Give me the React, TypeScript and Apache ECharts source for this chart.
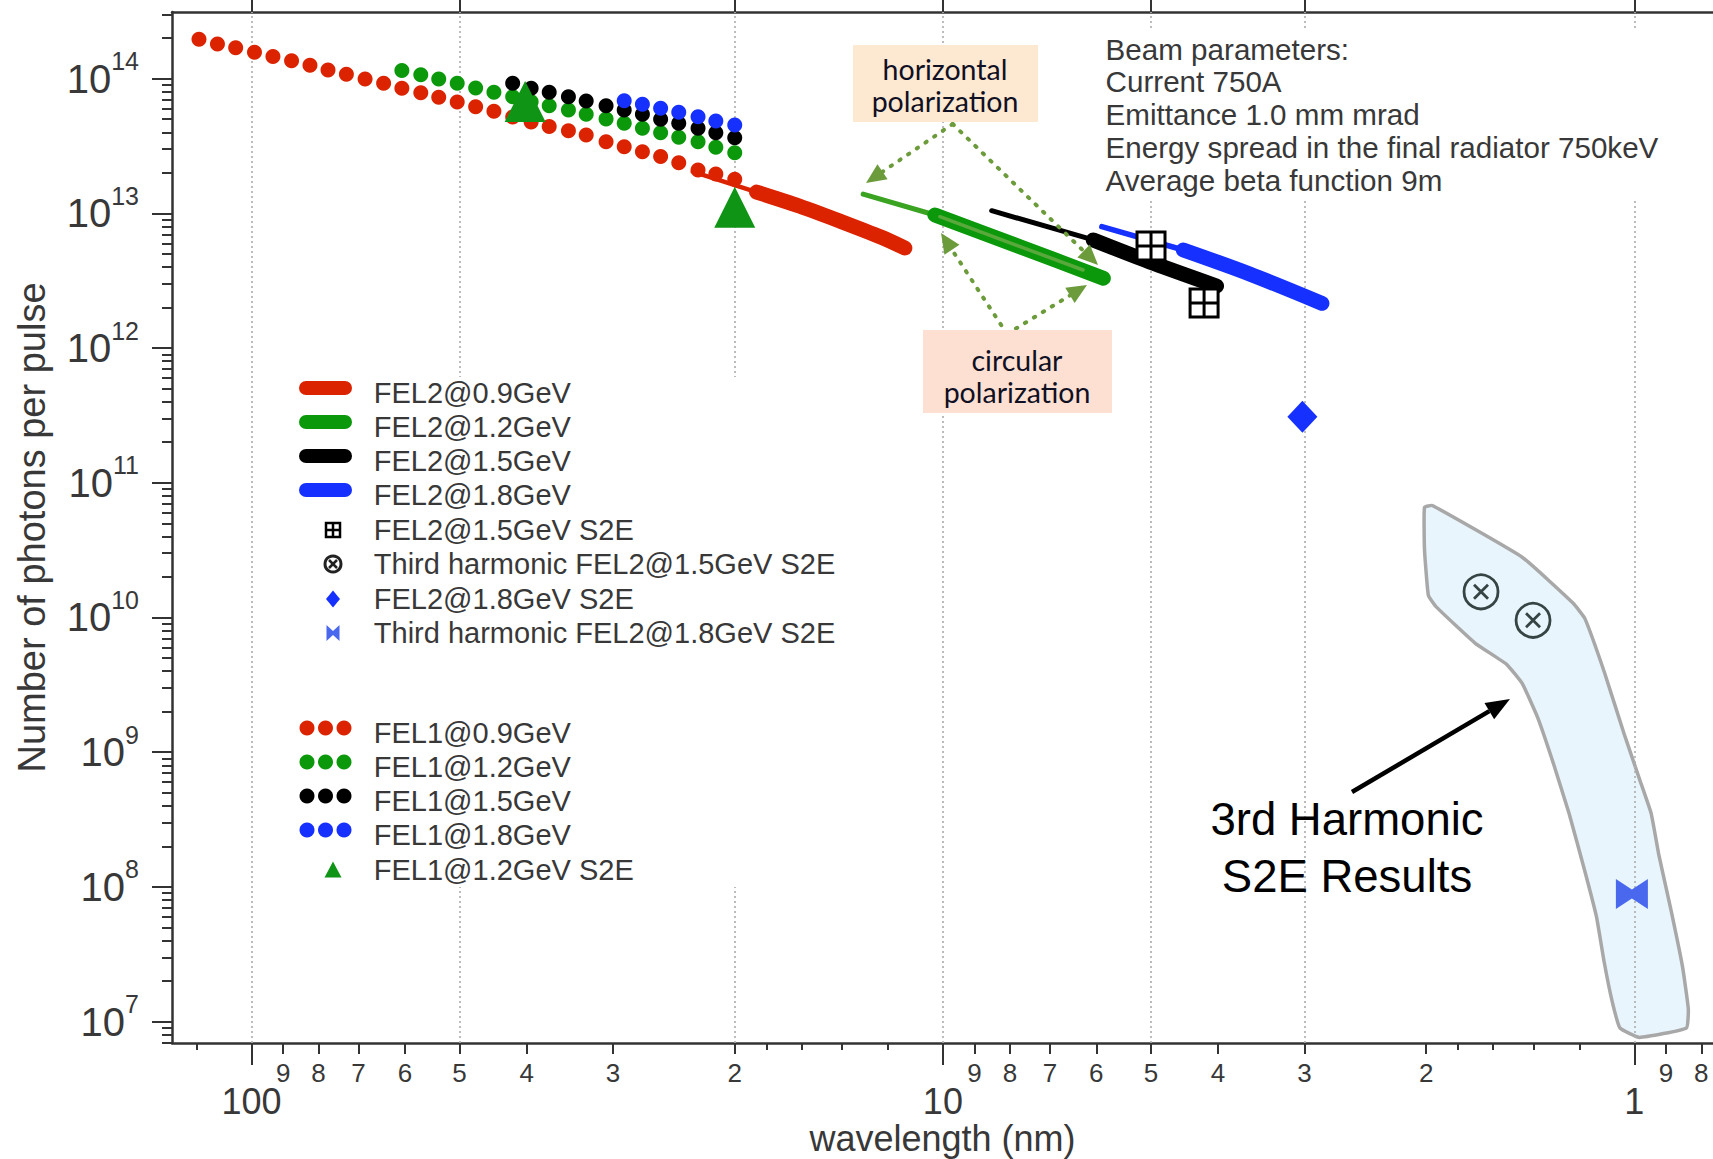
import React, { useEffect, useRef } from 'react';
import * as echarts from 'echarts';

const W = 1713;
const H = 1159;

// ---------------- data: [wavelength (nm), photons per pulse] ----------------
const fel1_09GeV = [
  [119.1, 1.96e14], [112.0, 1.81e14], [105.4, 1.70e14], [99.0, 1.57e14], [93.1, 1.46e14],
  [87.5, 1.36e14], [82.3, 1.26e14], [77.5, 1.16e14], [72.9, 1.08e14], [68.5, 9.95e13],
  [64.4, 9.24e13], [60.6, 8.49e13], [56.9, 7.87e13], [53.6, 7.28e13], [50.4, 6.71e13],
  [47.4, 6.20e13], [44.6, 5.73e13], [41.9, 5.20e13], [39.4, 4.77e13], [37.1, 4.42e13],
  [34.8, 4.11e13], [32.8, 3.82e13], [30.7, 3.40e13], [28.9, 3.13e13], [27.2, 2.87e13],
  [25.6, 2.64e13], [24.1, 2.38e13], [22.6, 2.10e13], [21.3, 1.96e13], [20.0, 1.79e13],
];
const fel1_12GeV = [
  [60.6, 1.15e14], [56.9, 1.07e14], [53.6, 9.95e13], [50.4, 9.24e13], [47.4, 8.53e13],
  [44.6, 7.93e13], [41.9, 7.35e13], [39.4, 6.75e13], [37.1, 6.30e13], [34.8, 5.86e13],
  [32.8, 5.44e13], [30.7, 5.02e13], [28.9, 4.67e13], [27.2, 4.28e13], [25.6, 3.97e13],
  [24.1, 3.67e13], [22.6, 3.40e13], [21.3, 3.10e13], [20.0, 2.82e13],
];
const fel1_15GeV = [
  [41.9, 9.24e13], [39.4, 8.49e13], [37.1, 7.93e13], [34.8, 7.35e13], [32.8, 6.83e13],
  [30.7, 6.30e13], [28.9, 5.86e13], [27.2, 5.44e13], [25.6, 4.99e13], [24.1, 4.67e13],
  [22.6, 4.28e13], [21.3, 3.97e13], [20.0, 3.65e13],
];
const fel1_18GeV = [
  [28.9, 6.87e13], [27.2, 6.46e13], [25.6, 6.03e13], [24.1, 5.63e13], [22.6, 5.22e13],
  [21.3, 4.85e13], [20.0, 4.53e13],
];
const fel1_12GeV_S2E = [[40.2, 6.77e13], [20.0, 1.11e13]];

const fel2_09GeV_thin = [[23.0, 2.04e13], [18.6, 1.44e13]];
const fel2_09GeV_thick = [[18.6, 1.44e13], [16.1, 1.13e13], [14.1, 8.78e12], [12.3, 6.68e12], [11.35, 5.54e12]];
const fel2_12GeV_thin = [[13.04, 1.39e13], [10.27, 9.73e12]];
const fel2_12GeV_thick = [[10.27, 9.73e12], [7.74, 5.66e12], [5.86, 3.30e12]];
const fel2_12GeV_stripe = [[10.1, 9.45e12], [6.27, 3.80e12]];
const fel2_15GeV_thin = [[8.50, 1.047e13], [6.06, 6.35e12]];
const fel2_15GeV_thick = [[6.06, 6.35e12], [4.96, 4.26e12], [4.02, 2.89e12]];
const fel2_18GeV_thin = [[5.89, 7.97e12], [4.49, 5.35e12]];
const fel2_18GeV_thick = [[4.49, 5.35e12], [3.60, 3.55e12], [2.83, 2.15e12]];

const fel2_15GeV_S2E = [[5.0, 5.73e12], [4.19, 2.16e12]];
const third_15GeV_S2E = [[1.666, 1.55e10], [1.401, 9.53e9]];
const fel2_18GeV_S2E = [[3.02, 3.09e11]];
const third_18GeV_S2E = [[1.008, 8.86e7]];

// ---------------- axes ----------------
const xMinWl = 0.7694;
const xMaxWl = 130.3;
const yMinN = 6.936e6;
const yMaxN = 3.127e14;
const xMajorTickWl = [100, 10, 1];
const xMajorLabelText = ['100', '10', '1'];
const xMinorLabelWl = [90, 80, 70, 60, 50, 40, 30, 20, 9, 8, 7, 6, 5, 4, 3, 2, 0.9, 0.8];
const xMinorLabelText = ['9', '8', '7', '6', '5', '4', '3', '2', '9', '8', '7', '6', '5', '4', '3', '2', '9', '8'];
const xFineTickWl = [120, 18, 16, 14, 12, 1.8, 1.6, 1.4, 1.2];
const xTopTickWl = [100, 50, 20, 10, 5, 3, 1];
const gridLineWl = [100, 50, 20, 10, 5, 3, 1];
const yMajorExp = [7, 8, 9, 10, 11, 12, 13, 14];
const yMinorMult = [2, 3, 4, 5, 6, 7, 8, 9];
const yMinorDecades = [6, 7, 8, 9, 10, 11, 12, 13, 14];

// ---------------- texts ----------------
const beamLines = [
  'Beam parameters:',
  'Current 750A',
  'Emittance 1.0 mm mrad',
  'Energy spread in the final radiator 750keV',
  'Average beta function 9m',
];
const legendLabels = [
  'FEL2@0.9GeV', 'FEL2@1.2GeV', 'FEL2@1.5GeV', 'FEL2@1.8GeV',
  'FEL2@1.5GeV S2E', 'Third harmonic FEL2@1.5GeV S2E', 'FEL2@1.8GeV S2E', 'Third harmonic FEL2@1.8GeV S2E',
  'FEL1@0.9GeV', 'FEL1@1.2GeV', 'FEL1@1.5GeV', 'FEL1@1.8GeV', 'FEL1@1.2GeV S2E',
];

// ---------------- styles ----------------
const FONT = '"Liberation Sans", Arial, Helvetica, sans-serif';
const HUM = 'Lato, "Open Sans", sans-serif';
const AX = '#333333';
const TXT = '#383838';
const RED = '#dc2300';
const GREEN = '#0b990b';
const GREEN_THIN = '#3aa322';
const STRIPE = '#58a83c';
const BLACK = '#000000';
const BLUE = '#1530ff';
const BOWTIE = '#4a68ee';
const TRI = '#0f9416';
const OLIVE = '#6c9b3b';
const OTIMES = '#364444';

const L = (v: number) => Math.log10(v);
const pts = (arr: number[][]) => arr.map(([w, n]) => [L(w), L(n)]);

function lineSeries(name: string, data: number[][], color: string, width: number) {
  return {
    type: 'line', name, data: pts(data), showSymbol: false, symbol: 'none', smooth: 0.3, silent: true, z: 2,
    lineStyle: { color, width, cap: 'round', join: 'round', opacity: 1 },
  };
}
function scatterSeries(name: string, data: number[][], symbol: string, size: any, itemStyle: any) {
  return {
    type: 'scatter', name, data: pts(data), symbol, symbolSize: size, symbolKeepAspect: true, silent: true, z: 2,
    itemStyle: { opacity: 1, ...itemStyle },
  };
}

function arrowHead(from: number[], to: number[], len: number, half: number) {
  const dx = to[0] - from[0];
  const dy = to[1] - from[1];
  const d = Math.hypot(dx, dy);
  const ux = dx / d;
  const uy = dy / d;
  const bx = to[0] - ux * len;
  const by = to[1] - uy * len;
  return {
    base: [bx, by],
    head: [[to[0], to[1]], [bx - uy * half, by + ux * half], [bx + uy * half, by - ux * half]],
  };
}

function buildGraphic() {
  const g: any[] = [];
  // 3rd harmonic shaded region
  const region = [[1424.5, 507.4], [1432.3, 505.5], [1522.2, 557.2], [1573, 603.1], [1584.8, 618.4],
    [1604.3, 672], [1623.9, 733.2], [1639.5, 779.1], [1651.2, 813.6], [1659, 855.7], [1670.8, 909.2],
    [1682.5, 966.6], [1688.3, 1008.7], [1686.4, 1027.9], [1639.5, 1037.4], [1619.9, 1027.9],
    [1612.1, 1001.1], [1604.3, 962.8], [1596.5, 916.9], [1584.8, 871], [1569.1, 813.6], [1553.5, 763.8],
    [1537.8, 717.9], [1522.2, 683.4], [1506.6, 664.3], [1475.3, 643.3], [1436.2, 606.9], [1428.4, 595.4],
    [1424.5, 549.5]];
  g.push({ type: 'polygon', z: 0, silent: true, shape: { points: region, smooth: 0.12 },
    style: { fill: '#e9f5fd', stroke: '#a8a8a8', lineWidth: 3.5 } });

  // white backgrounds that interrupt the grid lines
  g.push({ type: 'rect', z: 3, silent: true, shape: { x: 280, y: 377, width: 580, height: 510 }, style: { fill: '#ffffff' } });
  g.push({ type: 'rect', z: 3, silent: true, shape: { x: 1095, y: 30, width: 575, height: 168 }, style: { fill: '#ffffff' } });

  // dotted polarization arrows
  const apexH = [952.7, 124];
  const tipsH = [[866, 183], [1098, 265]];
  const apexC = [1007, 334];
  const tipsC = [[941, 233], [1087, 285]];
  const dotted = (a: number[], t: number[]) => {
    const ah = arrowHead(a, t, 20, 9);
    g.push({ type: 'line', z: 3, silent: true, shape: { x1: a[0], y1: a[1], x2: ah.base[0], y2: ah.base[1] },
      style: { stroke: OLIVE, lineWidth: 4, lineDash: [1.5, 9], lineCap: 'round' } });
    g.push({ type: 'polygon', z: 3, silent: true, shape: { points: ah.head }, style: { fill: OLIVE } });
  };
  tipsH.forEach((t) => dotted(apexH, t));
  tipsC.forEach((t) => dotted(apexC, t));

  // polarization boxes
  g.push({ type: 'rect', z: 3, silent: true, shape: { x: 853, y: 45, width: 185, height: 77 }, style: { fill: '#fde8d2' } });
  g.push({ type: 'rect', z: 3, silent: true, shape: { x: 923, y: 330, width: 189, height: 83 }, style: { fill: '#fde0d2' } });
  g.push({ type: 'text', z: 4, silent: true, style: { text: 'horizontal\npolarization', x: 945, y: 85,
    align: 'center', verticalAlign: 'middle', textAlign: 'center', textVerticalAlign: 'middle',
    fontSize: 28.5, fontFamily: HUM, lineHeight: 32.5, fill: '#101024' } });
  g.push({ type: 'text', z: 4, silent: true, style: { text: 'circular\npolarization', x: 1017, y: 376,
    align: 'center', verticalAlign: 'middle', textAlign: 'center', textVerticalAlign: 'middle',
    fontSize: 28.5, fontFamily: HUM, lineHeight: 32.5, fill: '#101024' } });

  // beam parameters
  g.push({ type: 'text', z: 4, silent: true, style: { text: beamLines.join('\n'), x: 1105.6, y: 32.6,
    align: 'left', verticalAlign: 'top', textAlign: 'left', textVerticalAlign: 'top',
    fontSize: 29.6, fontFamily: FONT, lineHeight: 32.8, fill: TXT } });

  // 3rd harmonic annotation
  const aFrom = [1352, 792];
  const aTo = [1510, 699];
  const ah = arrowHead(aFrom, aTo, 24, 9.5);
  g.push({ type: 'line', z: 4, silent: true, shape: { x1: aFrom[0], y1: aFrom[1], x2: ah.base[0], y2: ah.base[1] },
    style: { stroke: '#000', lineWidth: 4.5 } });
  g.push({ type: 'polygon', z: 4, silent: true, shape: { points: ah.head }, style: { fill: '#000' } });
  g.push({ type: 'text', z: 4, silent: true, style: { text: '3rd Harmonic\nS2E Results', x: 1347, y: 847.5,
    align: 'center', verticalAlign: 'middle', textAlign: 'center', textVerticalAlign: 'middle',
    fontSize: 45.5, fontFamily: FONT, lineHeight: 57, fill: '#000' } });

  // legend
  const rows = [393, 427, 461, 495, 530, 564, 599, 633, 733, 767, 801, 835, 870];
  const kinds = ['bar', 'bar', 'bar', 'bar', 'square', 'otimes', 'diamond', 'bowtie', 'dots', 'dots', 'dots', 'dots', 'triangle'];
  const colors = [RED, GREEN, BLACK, BLUE, BLACK, OTIMES, BLUE, BOWTIE, RED, GREEN, BLACK, BLUE, TRI];
  const cx = 333;
  legendLabels.forEach((label, i) => {
    const y = rows[i];
    const c = colors[i];
    const k = kinds[i];
    if (k === 'bar') {
      g.push({ type: 'line', z: 4, silent: true, shape: { x1: 306, y1: y - 5, x2: 345, y2: y - 5 },
        style: { stroke: c, lineWidth: 14, lineCap: 'round' } });
    } else if (k === 'dots') {
      [307, 325.5, 344].forEach((x) => g.push({ type: 'circle', z: 4, silent: true, shape: { cx: x, cy: y - 5, r: 7.5 }, style: { fill: c } }));
    } else if (k === 'square') {
      g.push({ type: 'rect', z: 4, silent: true, shape: { x: cx - 7, y: y - 7, width: 14, height: 14 }, style: { fill: '#fff', stroke: c, lineWidth: 2.5 } });
      g.push({ type: 'line', z: 4, silent: true, shape: { x1: cx, y1: y - 7, x2: cx, y2: y + 7 }, style: { stroke: c, lineWidth: 2.5 } });
      g.push({ type: 'line', z: 4, silent: true, shape: { x1: cx - 7, y1: y, x2: cx + 7, y2: y }, style: { stroke: c, lineWidth: 2.5 } });
    } else if (k === 'otimes') {
      g.push({ type: 'circle', z: 4, silent: true, shape: { cx, cy: y, r: 8 }, style: { fill: 'none', stroke: '#222', lineWidth: 3 } });
      g.push({ type: 'line', z: 4, silent: true, shape: { x1: cx - 4, y1: y - 4, x2: cx + 4, y2: y + 4 }, style: { stroke: '#222', lineWidth: 2.5 } });
      g.push({ type: 'line', z: 4, silent: true, shape: { x1: cx + 4, y1: y - 4, x2: cx - 4, y2: y + 4 }, style: { stroke: '#222', lineWidth: 2.5 } });
    } else if (k === 'diamond') {
      g.push({ type: 'polygon', z: 4, silent: true, shape: { points: [[cx, y - 8.5], [cx + 7, y], [cx, y + 8.5], [cx - 7, y]] }, style: { fill: c } });
    } else if (k === 'bowtie') {
      g.push({ type: 'polygon', z: 4, silent: true, shape: { points: [[cx - 6.5, y - 8], [cx, y - 2], [cx + 6.5, y - 8], [cx + 6.5, y + 8], [cx, y + 2], [cx - 6.5, y + 8]] }, style: { fill: c } });
    } else if (k === 'triangle') {
      g.push({ type: 'polygon', z: 4, silent: true, shape: { points: [[cx, y - 8.5], [cx + 8.5, y + 7.5], [cx - 8.5, y + 7.5]] }, style: { fill: c } });
    }
    g.push({ type: 'text', z: 4, silent: true, style: { text: label, x: 373.8, y,
      align: 'left', verticalAlign: 'middle', textAlign: 'left', textVerticalAlign: 'middle',
      fontSize: 29, fontFamily: FONT, fill: TXT } });
  });
  return g;
}

function buildOption() {
  const xMin = L(xMinWl);
  const xMax = L(xMaxWl);
  const yMin = L(yMinN);
  const yMax = L(yMaxN);
  const yMinor: number[] = [];
  yMinorDecades.forEach((e) => yMinorMult.forEach((m) => {
    const v = e + L(m);
    if (v > yMin && v < yMax) yMinor.push(v);
  }));
  const findLabel = (vals: number[], texts: string[], v: number) => {
    let best = 0;
    vals.forEach((w, i) => { if (Math.abs(L(w) - v) < Math.abs(L(vals[best]) - v)) best = i; });
    return texts[best];
  };
  const tickStyle = { color: AX, width: 2 };
  const xBase: any = {
    type: 'value', min: xMin, max: xMax, inverse: true, splitLine: { show: false }, axisPointer: { show: false },
  };
  const yBase: any = {
    type: 'value', min: yMin, max: yMax, splitLine: { show: false }, axisPointer: { show: false },
  };

  const series: any[] = [
    {
      type: 'lines', coordinateSystem: 'cartesian2d', z: 1, silent: true,
      data: gridLineWl.map((w) => ({ coords: [[L(w), yMin], [L(w), yMax]] })),
      lineStyle: { color: '#b0b0b0', width: 1.7, type: [2, 3], opacity: 1 },
    },
    scatterSeries('FEL2@1.5GeV S2E', fel2_15GeV_S2E, 'path://M0,0H10V10H0ZM5,0V10M0,5H10', 28,
      { color: '#ffffff', borderColor: BLACK, borderWidth: 3 }),
    lineSeries('FEL2@0.9GeV', fel2_09GeV_thin, RED, 4.5),
    lineSeries('FEL2@0.9GeV', fel2_09GeV_thick, RED, 15),
    lineSeries('FEL2@1.2GeV', fel2_12GeV_thin, GREEN_THIN, 5),
    lineSeries('FEL2@1.2GeV', fel2_12GeV_thick, GREEN, 15),
    lineSeries('FEL2@1.2GeV', fel2_12GeV_stripe, STRIPE, 3.5),
    lineSeries('FEL2@1.5GeV', fel2_15GeV_thin, BLACK, 5),
    lineSeries('FEL2@1.5GeV', fel2_15GeV_thick, BLACK, 15),
    lineSeries('FEL2@1.8GeV', fel2_18GeV_thin, BLUE, 5.5),
    lineSeries('FEL2@1.8GeV', fel2_18GeV_thick, BLUE, 15),
    scatterSeries('FEL1@0.9GeV', fel1_09GeV, 'circle', 15, { color: RED }),
    scatterSeries('FEL1@1.2GeV', fel1_12GeV, 'circle', 15, { color: GREEN }),
    scatterSeries('FEL1@1.5GeV', fel1_15GeV, 'circle', 15, { color: BLACK }),
    scatterSeries('FEL1@1.8GeV', fel1_18GeV, 'circle', 15, { color: BLUE }),
    scatterSeries('FEL1@1.2GeV S2E', fel1_12GeV_S2E, 'triangle', 41, { color: TRI }),
    scatterSeries('FEL2@1.8GeV S2E', fel2_18GeV_S2E, 'diamond', [30, 32], { color: BLUE }),
    scatterSeries('Third harmonic FEL2@1.5GeV S2E', third_15GeV_S2E, 'circle', 34,
      { color: 'rgba(0,0,0,0)', borderColor: OTIMES, borderWidth: 2.8 }),
    scatterSeries('Third harmonic FEL2@1.5GeV S2E', third_15GeV_S2E, 'path://M0,0L10,10M10,0L0,10', 14,
      { color: 'rgba(0,0,0,0)', borderColor: OTIMES, borderWidth: 2.8 }),
    scatterSeries('Third harmonic FEL2@1.8GeV S2E', third_18GeV_S2E, 'path://M0,0L10,7L20,0L20,20L10,13L0,20Z', [32, 30],
      { color: BOWTIE }),
  ];

  return {
    animation: false,
    backgroundColor: '#ffffff',
    grid: { left: 172, top: 12, right: 0, bottom: 116, containLabel: false, outerBoundsMode: 'none' },
    xAxis: [
      {
        ...xBase, position: 'bottom',
        axisLine: { show: true, onZero: false, lineStyle: { color: AX, width: 2.5 } },
        axisTick: { show: true, customValues: xMinorLabelWl.map(L), length: 11, inside: false, lineStyle: tickStyle },
        axisLabel: {
          show: true, customValues: xMinorLabelWl.map(L), margin: 17, fontSize: 26, fontFamily: FONT, color: TXT,
          formatter: (v: number) => findLabel(xMinorLabelWl, xMinorLabelText, v),
        },
      },
      {
        ...xBase, position: 'bottom',
        axisLine: { show: false, onZero: false },
        axisTick: { show: true, customValues: xMajorTickWl.map(L), length: 22, inside: false, lineStyle: tickStyle },
        axisLabel: {
          show: true, customValues: xMajorTickWl.map(L), margin: 40, fontSize: 36, fontFamily: FONT, color: TXT,
          formatter: (v: number) => findLabel(xMajorTickWl, xMajorLabelText, v),
        },
        name: 'wavelength (nm)', nameLocation: 'middle', nameGap: 77, nameMoveOverlap: false,
        nameTextStyle: { fontSize: 36, fontFamily: FONT, color: TXT },
      },
      {
        ...xBase, position: 'bottom',
        axisLine: { show: false, onZero: false },
        axisTick: { show: true, customValues: xFineTickWl.map(L), length: 7, inside: false, lineStyle: tickStyle },
        axisLabel: { show: false },
      },
      {
        ...xBase, position: 'top',
        axisLine: { show: true, onZero: false, lineStyle: { color: AX, width: 2.5 } },
        axisTick: { show: true, customValues: xTopTickWl.map(L), length: 12, inside: false, lineStyle: tickStyle },
        axisLabel: { show: false },
      },
    ],
    yAxis: [
      {
        ...yBase, position: 'left',
        axisLine: { show: true, onZero: false, lineStyle: { color: AX, width: 2.5 } },
        axisTick: { show: true, customValues: yMajorExp, length: 20, inside: false, lineStyle: tickStyle },
        axisLabel: {
          show: true, customValues: yMajorExp, margin: 33,
          formatter: (v: number) => `{b|10}{s|${Math.round(v)}}`,
          rich: {
            b: { fontSize: 40, lineHeight: 60, fontFamily: FONT, color: TXT },
            s: { fontSize: 25, lineHeight: 25, verticalAlign: 'top', fontFamily: FONT, color: TXT },
          },
        },
        name: 'Number of photons per pulse', nameLocation: 'middle', nameRotate: 90, nameGap: 121,
        nameMoveOverlap: false,
        nameTextStyle: { fontSize: 38, fontFamily: FONT, color: TXT },
      },
      {
        ...yBase, position: 'left',
        axisLine: { show: false, onZero: false },
        axisTick: { show: true, customValues: yMinor, length: 10, inside: false, lineStyle: tickStyle },
        axisLabel: { show: false },
      },
    ],
    series,
    graphic: { elements: buildGraphic() },
  };
}

export default function App() {
  const ref = useRef<HTMLDivElement>(null);
  useEffect(() => {
    if (!ref.current) return undefined;
    const chart = echarts.init(ref.current, null, { renderer: 'svg', width: W, height: H });
    chart.setOption(buildOption() as any);
    return () => chart.dispose();
  }, []);
  return (
    <div
      ref={ref}
      style={{ position: 'fixed', left: 0, top: 0, width: W, height: H, background: '#ffffff' }}
    />
  );
}
